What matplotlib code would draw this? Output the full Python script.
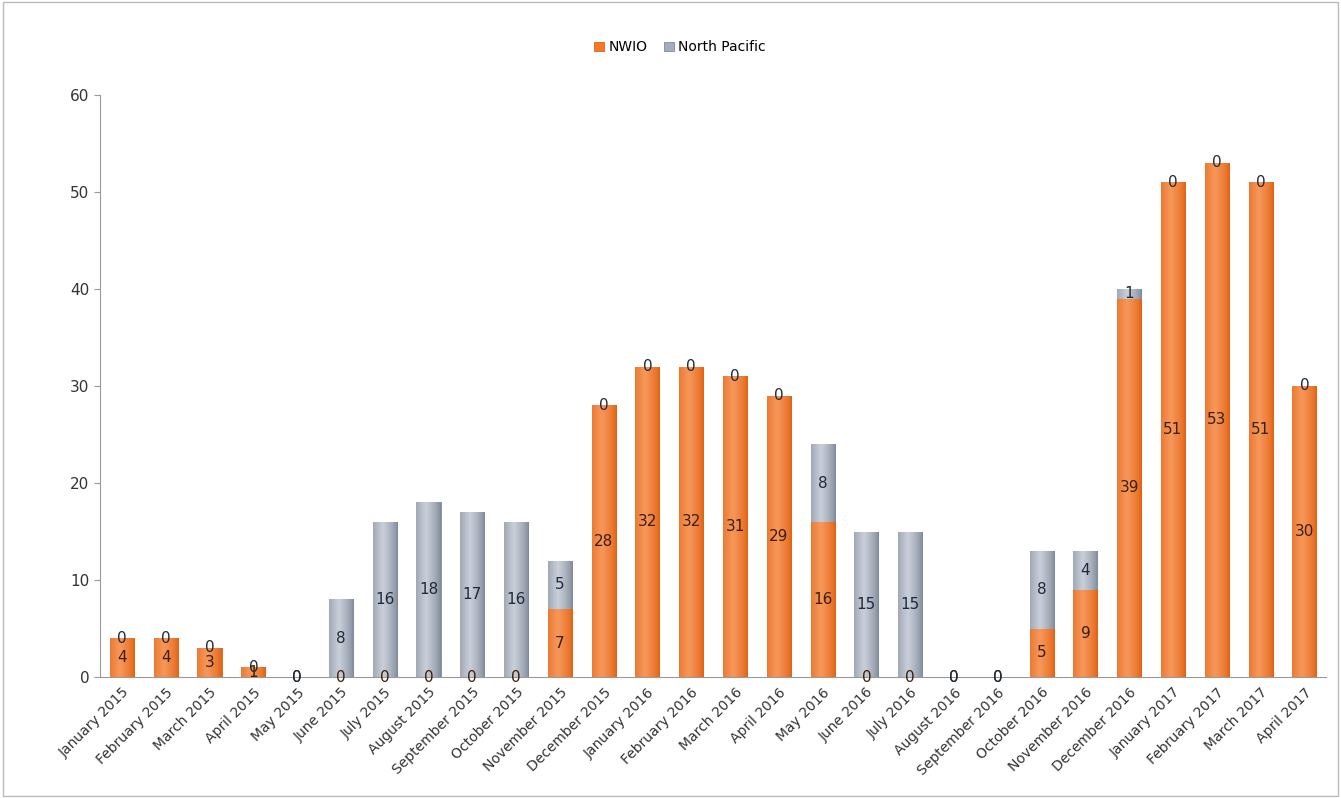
import numpy as np
import matplotlib
matplotlib.use("Agg")
import matplotlib.pyplot as plt
from matplotlib.patches import Rectangle
from matplotlib.colors import LinearSegmentedColormap

# ------------------------------------------------------------------
# Data
# ------------------------------------------------------------------

months = [
    "January 2015", "February 2015", "March 2015", "April 2015", "May 2015",
    "June 2015", "July 2015", "August 2015", "September 2015", "October 2015",
    "November 2015", "December 2015", "January 2016", "February 2016",
    "March 2016", "April 2016", "May 2016", "June 2016", "July 2016",
    "August 2016", "September 2016", "October 2016", "November 2016",
    "December 2016", "January 2017", "February 2017", "March 2017", "April 2017",
]
nwio = [4, 4, 3, 1, 0, 0, 0, 0, 0, 0, 7, 28, 32, 32, 31, 29, 16, 0, 0, 0,
        0, 5, 9, 39, 51, 53, 51, 30]
north_pacific = [0, 0, 0, 0, 0, 8, 16, 18, 17, 16, 5, 0, 0, 0, 0, 0, 8, 15,
                 15, 0, 0, 8, 4, 1, 0, 0, 0, 0]

ORANGE = "#F47A22"
GRAY = "#A3ADBD"
orange_cmap = LinearSegmentedColormap.from_list("o", ["#E0600F", "#F7975A"])
gray_cmap = LinearSegmentedColormap.from_list("g", ["#7C8696", "#C9CFD9"])

# ------------------------------------------------------------------
# Plot
# ------------------------------------------------------------------

fig = plt.figure(figsize=(13.41, 7.98), dpi=100)
ax = fig.add_axes([0.0746, 0.1516, 0.9144, 0.7294])

x = np.arange(len(months))
nw = np.array(nwio)
np_ = np.array(north_pacific)
w = 0.55

b1 = ax.bar(x, nw, width=w, color=ORANGE, edgecolor="#D9651A", lw=0.6,
            label="NWIO")
b2 = ax.bar(x, np_, width=w, bottom=nw, color=GRAY, edgecolor="#7F899A",
            lw=0.6, label="North Pacific")

# cylinder shading: horizontal gradient clipped to each bar
t = np.linspace(0, 1, 64)
profile = np.clip(1 - np.abs(t - 0.4) / 0.6, 0, 1) ** 0.7
grad = profile[np.newaxis, :]
for bars, cmap in [(b1, orange_cmap), (b2, gray_cmap)]:
    for p in bars:
        h = p.get_height()
        if h <= 0:
            continue
        x0, y0, bw = p.get_x(), p.get_y(), p.get_width()
        im = ax.imshow(grad, extent=[x0, x0 + bw, y0, y0 + h], aspect="auto",
                       cmap=cmap, origin="lower", zorder=p.get_zorder() + 0.1,
                       interpolation="bilinear")
        im.set_clip_path(p)

# data labels centred in each segment
for xi, a, b in zip(x, nw, np_):
    ax.text(xi, a / 2, str(a), ha="center", va="center", fontsize=11,
            color="#3B1F08", zorder=5)
    ax.text(xi, a + b / 2, str(b), ha="center", va="center", fontsize=11,
            color="#1E2B3A", zorder=5)

ax.set_xlim(-0.5, len(months) - 0.5)
ax.set_ylim(0, 60)
ax.set_yticks(range(0, 61, 10))
ax.set_xticks(x)
ax.set_xticklabels(months, rotation=45, ha="right", rotation_mode="anchor",
                   fontsize=10, color="#333333")
ax.tick_params(axis="y", labelsize=11, colors="#333333", length=4,
               color="#999999")
ax.tick_params(axis="x", length=0, pad=6)
for s in ["top", "right"]:
    ax.spines[s].set_visible(False)
ax.spines["left"].set_color("#999999")
ax.spines["bottom"].set_color("#999999")

fig.legend(loc="upper center", bbox_to_anchor=(0.507, 0.965), ncol=2,
           frameon=False, fontsize=10, handlelength=0.7, handleheight=0.7,
           handletextpad=0.3, columnspacing=1.2)

fig.patches.append(Rectangle((0.002, 0.002), 0.996, 0.996,
                             transform=fig.transFigure, fill=False,
                             edgecolor="#BBBBBB", lw=1))

plt.savefig("out.png", dpi=100)
